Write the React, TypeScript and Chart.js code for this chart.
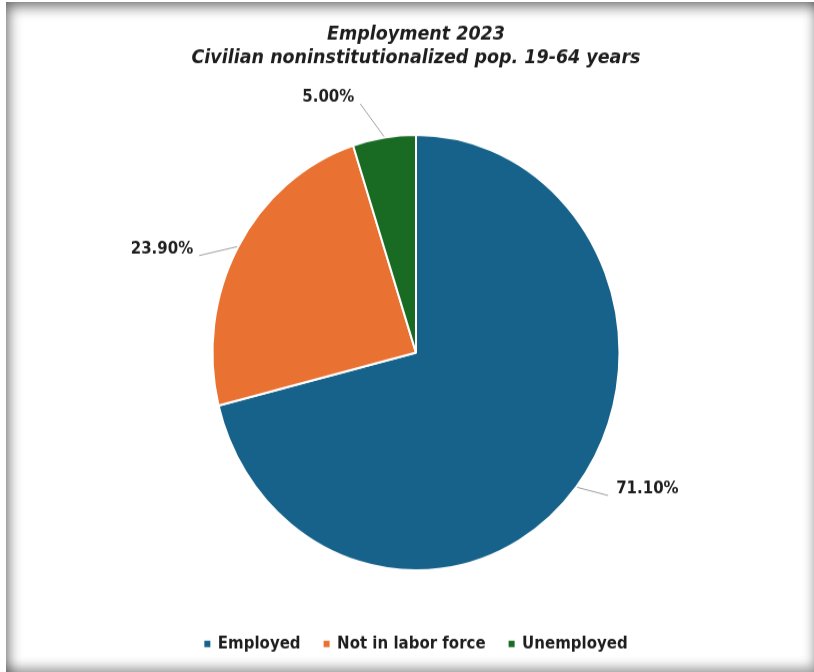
import React, { useEffect, useRef } from "react";
import { Chart, registerables } from "chart.js";

Chart.register(...registerables);

const titleLines = ["Employment 2023", "Civilian noninstitutionalized pop. 19-64 years"];
const categories = ["Employed", "Not in labor force", "Unemployed"];
const shares = [71.1, 23.9, 5.0];
const sliceColors = ["#17628a", "#E97132", "#196B24"];

const FONT = "'DejaVu Sans', sans-serif";
const TEXT = "#1e1e1e";

const labelPlugin = {
  id: "outsideLabels",
  afterDatasetsDraw(chart: any) {
    const ctx = chart.ctx;
    const meta = chart.getDatasetMeta(0);
    const data = chart.data.datasets[0].data as number[];
    ctx.save();
    ctx.font = `bold 15px ${FONT}`;
    ctx.fillStyle = TEXT;
    ctx.textBaseline = "middle";
    meta.data.forEach((arc: any, i: number) => {
      const { x, y, startAngle, endAngle, outerRadius } = arc.getProps(
        ["x", "y", "startAngle", "endAngle", "outerRadius"],
        true
      );
      const mid = (startAngle + endAngle) / 2;
      const a = mid - (5.5 * Math.PI) / 180;
      const lr = outerRadius + 37 - 6 * Math.sin(a);
      const ax = x + Math.cos(a) * lr;
      const ay = y + Math.sin(a) * lr;
      const right = Math.cos(a) >= 0;
      const sx = x + Math.cos(mid) * (outerRadius + 1);
      const sy = y + Math.sin(mid) * (outerRadius + 1);
      const ex = ax + (right ? -8 : 6);
      const ey = ay + 6;
      ctx.strokeStyle = "#a0a0a0";
      ctx.lineWidth = 1;
      ctx.beginPath();
      ctx.moveTo(sx, sy);
      ctx.lineTo(ex, ey);
      ctx.stroke();
      ctx.textAlign = right ? "left" : "right";
      ctx.fillText(data[i].toFixed(2) + "%", ax, ay);
    });
    ctx.restore();
  },
};

export default function App() {
  const canvasRef = useRef<HTMLCanvasElement | null>(null);

  useEffect(() => {
    if (!canvasRef.current) return;
    const chart = new Chart(canvasRef.current, {
      type: "pie",
      data: {
        labels: categories,
        datasets: [
          {
            data: shares,
            backgroundColor: sliceColors,
            borderColor: "#ffffff",
            borderWidth: 2,
            radius: 203.5,
          } as any,
        ],
      },
      options: {
        responsive: false,
        animation: false,
        layout: { padding: { left: 18, right: 0, top: 0, bottom: 8.7 } },
        plugins: {
          title: {
            display: true,
            text: titleLines,
            color: TEXT,
            font: { family: FONT, size: 17.5, weight: "bold", style: "italic", lineHeight: 1.31 },
            padding: { top: 20.5, bottom: 21.5 },
          },
          legend: {
            position: "bottom",
            labels: {
              usePointStyle: true,
              pointStyle: "rect",
              boxWidth: 6,
              boxHeight: 6,
              padding: 23,
              color: TEXT,
              font: { family: FONT, size: 15, weight: "bold" },
              generateLabels: (c: any) =>
                (c.data.labels as string[]).map((text, i) => ({
                  text,
                  fillStyle: sliceColors[i],
                  strokeStyle: sliceColors[i],
                  lineWidth: 0,
                  pointStyle: "rect",
                  hidden: false,
                  index: i,
                  fontColor: TEXT,
                })),
            },
          },
          tooltip: { enabled: false },
        },
      } as any,
      plugins: [labelPlugin],
    });
    return () => chart.destroy();
  }, []);

  return (
    <div
      style={{
        position: "fixed",
        left: 0,
        top: 0,
        width: 814,
        height: 672,
        background: "#ffffff",
        overflow: "hidden",
      }}
    >
      <div
        style={{
          position: "absolute",
          left: 0,
          top: 0,
          width: 814,
          height: 628,
          transform: `scaleY(${672 / 628})`,
          transformOrigin: "0 0",
        }}
      >
        <canvas ref={canvasRef} width={814} height={628} style={{ width: 814, height: 628, display: "block" }} />
      </div>
      <div
        style={{
          position: "absolute",
          left: 6,
          top: 2,
          right: 0,
          bottom: 0,
          pointerEvents: "none",
          boxShadow:
            "inset 7px 9px 14px -5px rgba(0,0,0,0.6), inset -5px -9px 12px -5px rgba(0,0,0,0.4)",
        }}
      />
    </div>
  );
}
